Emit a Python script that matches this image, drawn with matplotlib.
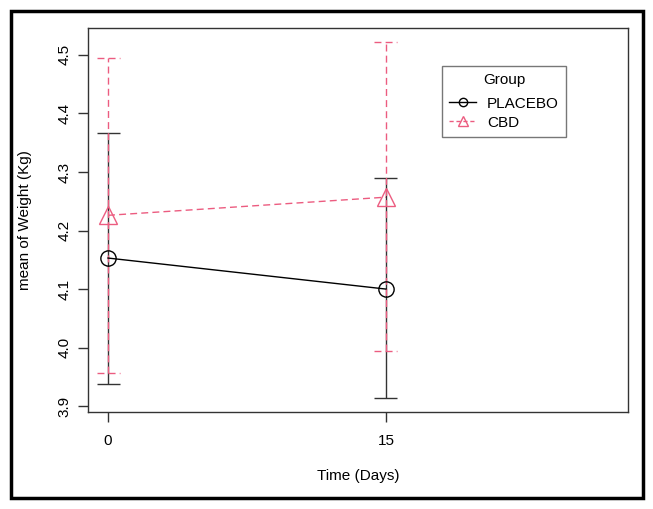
import matplotlib.pyplot as plt
from matplotlib.lines import Line2D
from matplotlib.patches import Rectangle

plt.rcParams['font.family'] = ['Liberation Sans', 'DejaVu Sans']

days = [0, 15]
placebo_mean = [4.153, 4.100]
placebo_lo = [3.937, 3.914]
placebo_hi = [4.367, 4.289]
cbd_mean = [4.226, 4.257]
cbd_lo = [3.957, 3.995]
cbd_hi = [4.494, 4.522]
yticks = [3.9, 4.0, 4.1, 4.2, 4.3, 4.4, 4.5]

pink = '#EC5C80'
dash = (0, (5, 3))
cap = 0.62

fig = plt.figure(figsize=(6.53, 5.09), dpi=100)
fig.patches.append(Rectangle((11 / 653, 1 - 498 / 509), 632 / 653, 487 / 509,
                             transform=fig.transFigure, fill=False,
                             edgecolor='black', linewidth=2.5))
ax = fig.add_axes([88 / 653, 1 - 412 / 509, 540 / 653, 384 / 509])

# error bars
ax.vlines(days, placebo_lo, placebo_hi, color='#333333', linewidth=1)
ax.hlines(placebo_lo, [d - cap for d in days], [d + cap for d in days], color='#333333', linewidth=1)
ax.hlines(placebo_hi, [d - cap for d in days], [d + cap for d in days], color='#333333', linewidth=1)
ax.vlines(days, cbd_lo, cbd_hi, color=pink, linewidth=1, linestyles=[dash])
ax.hlines(cbd_lo, [d - cap for d in days], [d + cap for d in days], color=pink, linewidth=1, linestyles=[dash])
ax.hlines(cbd_hi, [d - cap for d in days], [d + cap for d in days], color=pink, linewidth=1, linestyles=[dash])

ax.plot(days, placebo_mean, color='black', linewidth=1, marker='o', markersize=11,
        markerfacecolor='none', markeredgecolor='black', markeredgewidth=1)
ax.plot(days, cbd_mean, color=pink, linewidth=1, linestyle=dash, marker='^', markersize=13,
        markerfacecolor='none', markeredgecolor=pink, markeredgewidth=1)

ax.set_xlim(-1.08, 28.06)
ax.set_ylim(3.890, 4.546)
ax.set_xticks(days)
ax.set_yticks(yticks)
ax.set_yticklabels([f'{v:.1f}' for v in yticks], rotation=90, va='center')
ax.tick_params(axis='both', length=7, width=1, color='#333333', labelsize=11, pad=5)
ax.tick_params(axis='x', pad=9)
for s in ax.spines.values():
    s.set_linewidth(1)
    s.set_color('#333333')

ax.set_xlabel('Time (Days)', fontsize=11, labelpad=15)
ax.set_ylabel('mean of Weight (Kg)', fontsize=11, labelpad=18)

handles = [
    Line2D([], [], color='black', linewidth=1, marker='o', markersize=6,
           markerfacecolor='none'),
    Line2D([], [], color=pink, linewidth=1, linestyle=(0, (3, 2)), marker='^', markersize=7,
           markerfacecolor='none'),
]
leg = fig.legend(handles, ['PLACEBO', 'CBD'], title='Group', loc='upper left',
                 bbox_to_anchor=(442 / 653, 1 - 66 / 509), fontsize=11, title_fontsize=11,
                 fancybox=False, edgecolor='#555555', handlelength=1.8, handletextpad=0.7,
                 handleheight=0.9, borderpad=0.45, labelspacing=0.25, borderaxespad=0)
leg.get_frame().set_linewidth(1)
leg._legend_box.sep = 7

fig.savefig('out.png', dpi=100)
